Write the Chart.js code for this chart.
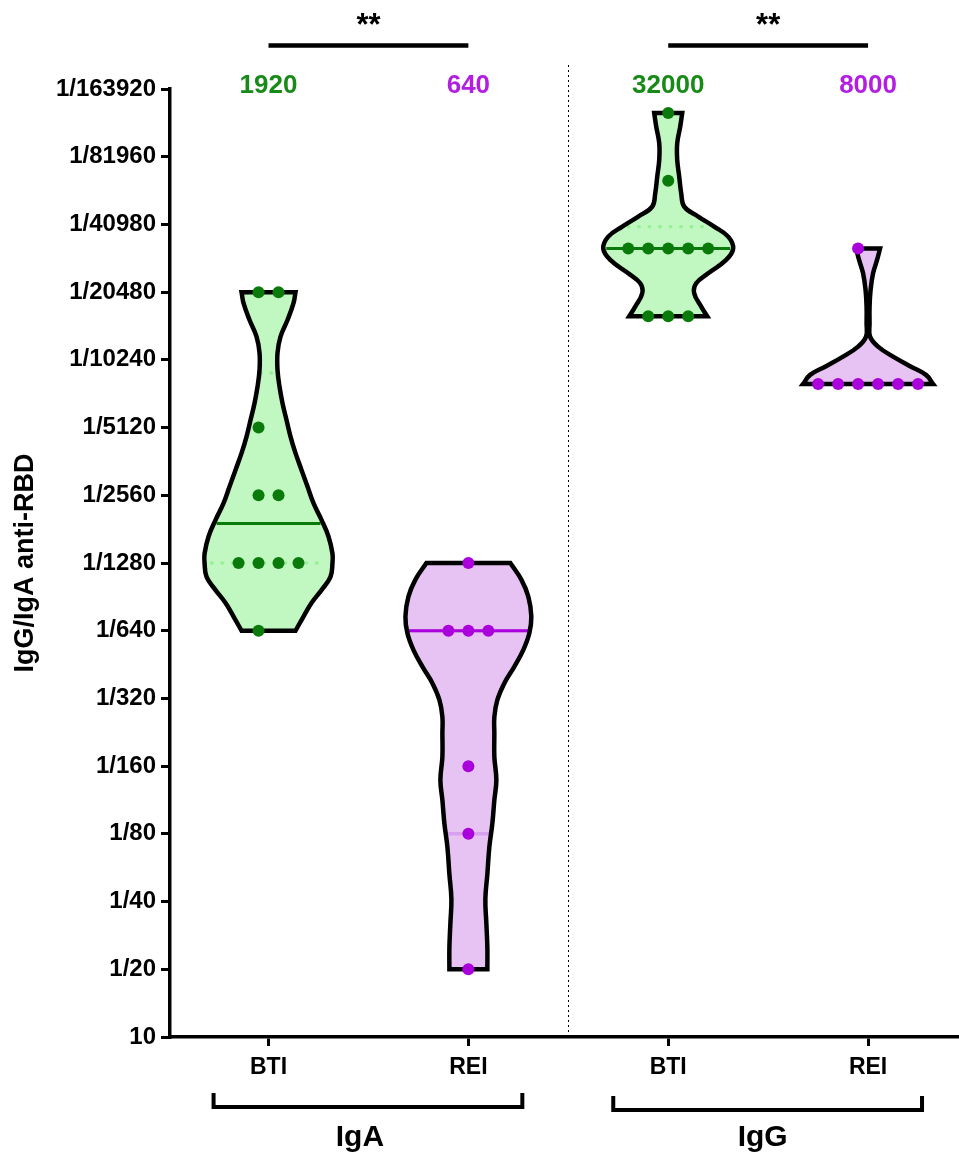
<!DOCTYPE html>
<html>
<head>
<meta charset="utf-8">
<title>IgG/IgA anti-RBD</title>
<script src="https://cdn.jsdelivr.net/npm/chart.js@4.4.1/dist/chart.umd.min.js"></script>
<style>
  html, body { margin: 0; padding: 0; background: #fff; }
  canvas { display: block; }
</style>
</head>
<body>
<canvas id="chart" width="959" height="1153"></canvas>
<script>
// categories
const groups = ["BTI", "REI", "BTI", "REI"];
const isotypes = ["IgA", "IgG"];
const medianLabels = ["1920", "640", "32000", "8000"];
const significance = ["**", "**"];

// y axis (log2 dilutions)
const yTickValues = [10, 20, 40, 80, 160, 320, 640, 1280, 2560, 5120, 10240, 20480, 40960, 81920, 163840];
const yTickLabels = ["10", "1/20", "1/40", "1/80", "1/160", "1/320", "1/640", "1/1280", "1/2560",
  "1/5120", "1/10240", "1/20480", "1/40980", "1/81960", "1/163920"];

// titers per subject
const igaBti = [20480, 20480, 5120, 2560, 2560, 1280, 1280, 1280, 1280, 640];
const igaRei = [1280, 640, 640, 640, 160, 80, 20];
const iggBti = [128000, 64000, 32000, 32000, 32000, 32000, 32000, 16000, 16000, 16000];
const iggRei = [32000, 8000, 8000, 8000, 8000, 8000, 8000];

// medians / quartiles
const medians = [1920, 640, 32000, 8000];
const lowerQuartiles = [1280, 80, 16000, 8000];
const upperQuartiles = [8960, 640, 40000, 8000];

// violin outlines: titer level -> half width (in category units)
const igaBtiLevels = [20480, 18280, 15400, 13000, 11000, 9230, 7780, 6570, 5530, 4670, 3940, 3320, 2800, 2360, 1990, 1680, 1410, 1280, 1110, 970, 850, 740, 640];
const igaBtiWidths = [0.135, 0.125, 0.095, 0.06, 0.045, 0.045, 0.055, 0.07, 0.09, 0.11, 0.135, 0.165, 0.195, 0.225, 0.265, 0.3, 0.32, 0.32, 0.31, 0.265, 0.215, 0.175, 0.135];
const igaReiLevels = [1280, 1080, 907, 740, 623, 526, 443, 374, 315, 265, 224, 176, 139, 113, 89, 70, 53, 41, 32, 25, 20];
const igaReiWidths = [0.21, 0.265, 0.3, 0.315, 0.305, 0.275, 0.23, 0.18, 0.145, 0.13, 0.13, 0.13, 0.14, 0.13, 0.12, 0.105, 0.095, 0.085, 0.09, 0.095, 0.095];
const iggBtiLevels = [128000, 111500, 94000, 79250, 66800, 56350, 49170, 44370, 40030, 36150, 32000, 28470, 24840, 22430, 20250, 17660, 16000];
const iggBtiWidths = [0.07, 0.06, 0.045, 0.045, 0.055, 0.065, 0.08, 0.15, 0.23, 0.3, 0.325, 0.29, 0.2, 0.14, 0.13, 0.165, 0.195];
const iggReiLevels = [32000, 28470, 24840, 20940, 17660, 14900, 12990, 11720, 10580, 9550, 8780, 8000];
const iggReiWidths = [0.06, 0.045, 0.025, 0.0125, 0.0075, 0.0075, 0.01, 0.05, 0.125, 0.215, 0.29, 0.325];

// widths of the median / quartile lines
const medianWidths = [0.26, 0.3, 0.31, 0.32];
const lowerQuartileWidths = [0.285, 0.115, 0.19, 0.32];
const upperQuartileWidths = [0.04, 0.3, 0.2, 0.05];

const FONT = "'Liberation Sans', Arial, sans-serif";
const GREEN = { fill: "#c1f8c1", dark: "#0a7a0a", text: "#178a17", light: "#96f096", dash: [0.5, 10] };
const PURPLE = { fill: "#e7c3f3", dark: "#aa00dc", text: "#b21ee2", light: "#d9a0ef", dash: [] };

const violins = [
  { values: igaBti, levels: igaBtiLevels, widths: igaBtiWidths, col: GREEN, shift: -0.05 },
  { values: igaRei, levels: igaReiLevels, widths: igaReiWidths, col: PURPLE, shift: 0 },
  { values: iggBti, levels: iggBtiLevels, widths: iggBtiWidths, col: GREEN, shift: 0 },
  { values: iggRei, levels: iggReiLevels, widths: iggReiWidths, col: PURPLE, shift: -0.05 }
];

// closed outline, corners doubled so the flat ends stay sharp
function violinPoints(c, levels, widths) {
  const n = levels.length;
  const pts = [{ x: c, y: levels[0] }, { x: c + widths[0], y: levels[0] }];
  for (let i = 0; i < n; i++) pts.push({ x: c + widths[i], y: levels[i] });
  pts.push({ x: c + widths[n - 1], y: levels[n - 1] });
  pts.push({ x: c - widths[n - 1], y: levels[n - 1] });
  for (let i = n - 1; i >= 0; i--) pts.push({ x: c - widths[i], y: levels[i] });
  pts.push({ x: c - widths[0], y: levels[0] });
  pts.push({ x: c, y: levels[0] });
  return pts;
}

function dotPoints(c, values, shift) {
  const counts = new Map();
  values.forEach(v => counts.set(v, (counts.get(v) || 0) + 1));
  const pts = [];
  counts.forEach((k, v) => {
    for (let i = 0; i < k; i++) {
      const off = k === 1 ? shift : (i - (k - 1) / 2) * 0.1;
      pts.push({ x: c + off, y: v });
    }
  });
  return pts;
}

function hLine(c, y, w) {
  return [{ x: c - w, y: y }, { x: c + w, y: y }];
}

const datasets = [];
violins.forEach((v, i) => {
  const c = i + 1;
  const shape = violinPoints(c, v.levels, v.widths);
  datasets.push({
    type: "line", data: shape, order: 4, fill: "shape", backgroundColor: v.col.fill,
    borderColor: "rgba(0,0,0,0)", tension: 0.4, pointRadius: 0
  });
  datasets.push({
    type: "line", data: hLine(c, lowerQuartiles[i], lowerQuartileWidths[i]), order: 3,
    borderColor: v.col.light, borderWidth: 3.5, borderDash: v.col.dash, borderCapStyle: v.col.dash.length ? "round" : "butt",
    pointRadius: 0, fill: false
  });
  datasets.push({
    type: "line", data: hLine(c, upperQuartiles[i], upperQuartileWidths[i]), order: 3,
    borderColor: v.col.light, borderWidth: 3.5, borderDash: v.col.dash, borderCapStyle: v.col.dash.length ? "round" : "butt",
    pointRadius: 0, fill: false
  });
  datasets.push({
    type: "line", data: hLine(c, medians[i], medianWidths[i]), order: 2,
    borderColor: v.col.dark, borderWidth: 3, pointRadius: 0, fill: false
  });
  datasets.push({
    type: "line", data: shape, order: 1, fill: false, borderColor: "#000", borderWidth: 4.5,
    tension: 0.4, pointRadius: 0
  });
  datasets.push({
    type: "scatter", data: dotPoints(c, v.values, v.shift), order: 0,
    pointRadius: 6, pointBackgroundColor: v.col.dark, pointBorderWidth: 0
  });
});

const annotations = {
  id: "annotations",
  afterDraw(chart) {
    const { ctx, scales: { x } } = chart;
    const px = v => x.getPixelForValue(v);
    ctx.save();

    // dotted divider between IgA and IgG
    const sx = Math.round(px(2.5)) + 0.5;
    ctx.strokeStyle = "#000";
    ctx.lineWidth = 1;
    ctx.setLineDash([2, 3]);
    ctx.beginPath();
    ctx.moveTo(sx, 65);
    ctx.lineTo(sx, chart.chartArea.bottom - 4);
    ctx.stroke();
    ctx.setLineDash([]);

    // medians written above each violin
    ctx.font = "bold 26px " + FONT;
    ctx.textAlign = "center";
    ctx.textBaseline = "middle";
    medianLabels.forEach((t, i) => {
      ctx.fillStyle = violins[i].col.text;
      ctx.fillText(t, px(i + 1), 86);
    });

    // significance bars
    ctx.fillStyle = "#000";
    ctx.lineWidth = 4.5;
    ctx.font = "bold 31px " + FONT;
    significance.forEach((s, k) => {
      const a = px(2 * k + 1), b = px(2 * k + 2);
      ctx.beginPath();
      ctx.moveTo(a, 45.5);
      ctx.lineTo(b, 45.5);
      ctx.stroke();
      ctx.fillText(s, (a + b) / 2, 26);
    });

    // group brackets under the axis
    ctx.lineWidth = 4;
    ctx.font = "bold 30px " + FONT;
    isotypes.forEach((name, k) => {
      const a = px(2 * k + 1 - 0.275), b = px(2 * k + 2 + 0.27);
      const top = 1093 + k * 3, bot = 1107 + k * 3;
      ctx.beginPath();
      ctx.moveTo(a, top);
      ctx.lineTo(a, bot);
      ctx.lineTo(b, bot);
      ctx.lineTo(b, top);
      ctx.stroke();
      ctx.fillText(name, (a + b) / 2 - 8 + k * 3, 1138);
    });
    ctx.restore();
  }
};

Chart.defaults.font.family = FONT;
Chart.defaults.color = "#000";

new Chart(document.getElementById("chart"), {
  type: "scatter",
  data: { datasets: datasets },
  options: {
    responsive: false,
    animation: false,
    events: [],
    layout: { autoPadding: false, padding: { top: 89, right: 0, bottom: 0, left: 0 } },
    plugins: { legend: { display: false }, tooltip: { enabled: false } },
    scales: {
      x: {
        type: "linear",
        min: 0.507,
        max: 4.455,
        afterBuildTicks: s => { s.ticks = groups.map((g, i) => ({ value: i + 1 })); },
        afterFit: s => { s.height = 116; s.paddingLeft = 0; s.paddingRight = 0; },
        ticks: {
          autoSkip: false, maxRotation: 0, padding: 8, color: "#000",
          font: { size: 23, weight: "bold" },
          callback: v => groups[v - 1]
        },
        grid: { drawOnChartArea: false, drawTicks: true, tickLength: 9, color: "#000", lineWidth: 3 },
        border: { color: "#000", width: 3.5 }
      },
      y: {
        type: "logarithmic",
        min: 10,
        max: 163840,
        afterBuildTicks: s => { s.ticks = yTickValues.map(v => ({ value: v })); },
        afterFit: s => { s.width = 170; },
        ticks: {
          autoSkip: false, padding: 5, color: "#000",
          font: { size: 24, weight: "bold" },
          callback: v => yTickLabels[yTickValues.indexOf(v)]
        },
        grid: { drawOnChartArea: false, drawTicks: true, tickLength: 9, color: "#000", lineWidth: 3 },
        border: { color: "#000", width: 3.5 },
        title: {
          display: true, text: "IgG/IgA anti-RBD", color: "#000",
          font: { size: 27, weight: "bold" }, padding: { top: 9, bottom: 0 }
        }
      }
    }
  },
  plugins: [annotations]
});
</script>
</body>
</html>
